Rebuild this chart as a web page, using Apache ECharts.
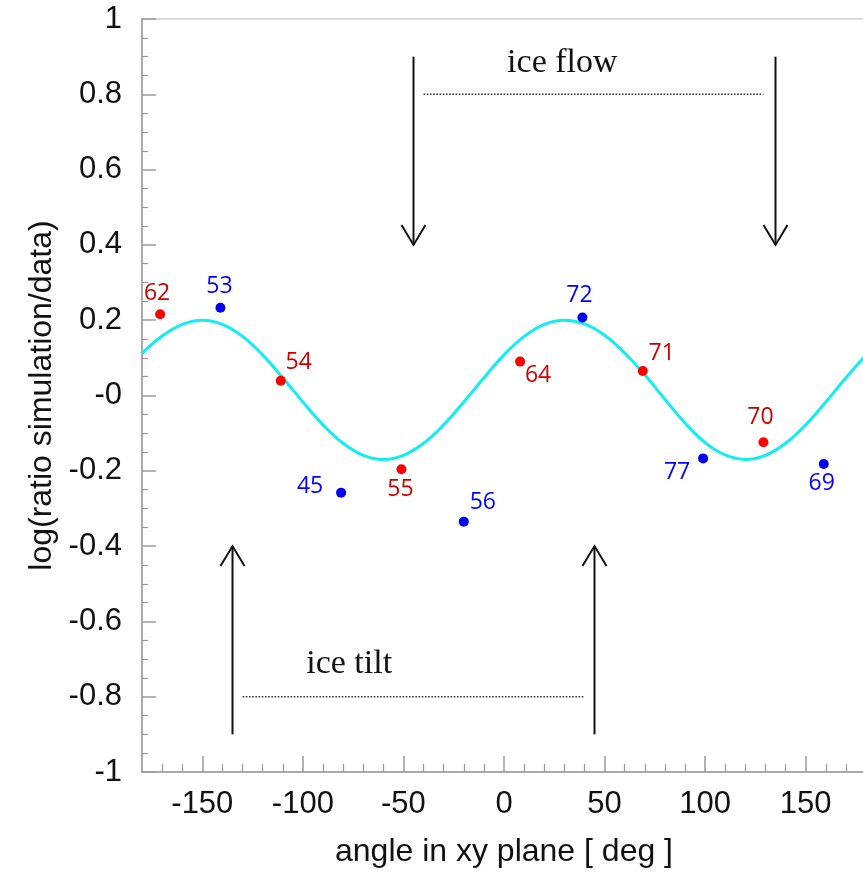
<!DOCTYPE html>
<html>
<head>
<meta charset="utf-8">
<script src="https://cdn.jsdelivr.net/npm/echarts@6/dist/echarts.min.js"></script>
<style>
  html, body { margin: 0; padding: 0; background: #fff; }
  #chart { width: 863px; height: 873px; }
</style>
</head>
<body>
<div id="chart"></div>
<script>
// ---- data ----
const redNames = ['62', '54', '55', '64', '71', '70'];
const redX = [-171, -111, -51, 8, 69, 129];
const redY = [0.216, 0.039, -0.196, 0.090, 0.065, -0.124];

const blueNames = ['53', '45', '56', '72', '77', '69'];
const blueX = [-141, -81, -20, 39, 99, 159];
const blueY = [0.233, -0.258, -0.335, 0.207, -0.167, -0.182];

// fitted curve, every 10 degrees
const curveX = [-180, -170, -160, -150, -140, -130, -120, -110, -100, -90, -80, -70, -60, -50, -40, -30, -20, -10,
                0, 10, 20, 30, 40, 50, 60, 70, 80, 90, 100, 110, 120, 130, 140, 150, 160, 170, 180];
const curveY = [0.112, 0.158, 0.189, 0.200, 0.189, 0.157, 0.108, 0.047, -0.017, -0.078, -0.127, -0.159, -0.170,
                -0.159, -0.127, -0.078, -0.017, 0.047, 0.108, 0.157, 0.189, 0.200, 0.190, 0.160, 0.113, 0.055,
                -0.010, -0.073, -0.125, -0.158, -0.170, -0.159, -0.127, -0.078, -0.017, 0.047, 0.108];

// tick labels
const xMajorTicks = [-150, -100, -50, 0, 50, 100, 150];
const xMinorTicks = [-170, -160, -140, -130, -120, -110, -90, -80, -70, -60, -40, -30, -20, -10,
                     10, 20, 30, 40, 60, 70, 80, 90, 110, 120, 130, 140, 160, 170];

// annotations (data coordinates)
const arrowX = [-45, 135, -135, 45];
const arrowFrom = [0.9, 0.9, -0.9, -0.9];
const arrowTo = [0.4, 0.4, -0.4, -0.4];
const dotLineX0 = [-40, -130];
const dotLineX1 = [129, 40];
const dotLineY = [0.8, -0.8];
const noteText = ['ice flow', 'ice tilt'];
const noteX = [29, -77];
const noteY = [0.882, -0.713];

// label offsets (px) relative to each point
const redLabelOffsets = [[-3, -21], [18, -18], [-1, 20], [18, 14], [19, -18], [-3, -25]];
const blueLabelOffsets = [[-1, -21], [-31, -6], [19, -19], [-3, -22], [-26, 14], [-2, 19]];

// ---- build ----
const SANS = 'Liberation Sans';
const LABEL_FONT = 'Open Sans';

function pts(xs, ys, names, offsets) {
  return xs.map((x, i) => ({
    value: [x, ys[i]],
    name: names[i],
    label: { offset: offsets[i] }
  }));
}

const chart = echarts.init(document.getElementById('chart'), null, { renderer: 'canvas' });

const axisGray = '#9a9a9a';

const option = {
  animation: false,
  backgroundColor: '#fff',
  grid: {
    left: 142, right: -3, top: 19, bottom: 101,
    show: true, borderColor: '#cfcfcf', borderWidth: 1.5,
    containLabel: false, outerBoundsMode: 'none'
  },
  xAxis: [
    {
      type: 'value', min: -180, max: 180, position: 'bottom',
      name: 'angle in xy plane [ deg ]', nameLocation: 'middle', nameGap: 64,
      nameTextStyle: { fontFamily: SANS, fontSize: 32, color: '#111' },
      axisLine: { show: true, onZero: false, lineStyle: { color: axisGray, width: 1.5 } },
      axisTick: { show: true, inside: true, length: 16, customValues: xMajorTicks,
                  lineStyle: { color: axisGray, width: 1.5 } },
      axisLabel: { show: true, customValues: xMajorTicks, margin: 17,
                   fontFamily: SANS, fontSize: 31, color: '#111' },
      splitLine: { show: false }
    },
    {
      type: 'value', min: -180, max: 180, position: 'bottom',
      axisLine: { show: false, onZero: false },
      axisTick: { show: true, inside: true, length: 8, customValues: xMinorTicks,
                  lineStyle: { color: axisGray, width: 1.2 } },
      axisLabel: { show: false },
      splitLine: { show: false }
    }
  ],
  yAxis: {
    type: 'value', min: -1, max: 1, interval: 0.2,
    name: 'log(ratio simulation/data)', nameLocation: 'middle', nameGap: 84,
    nameTextStyle: { fontFamily: SANS, fontSize: 32, color: '#111' },
    axisLine: { show: true, onZero: false, lineStyle: { color: axisGray, width: 1.5 } },
    axisTick: { show: true, inside: true, length: 14, lineStyle: { color: axisGray, width: 1.5 } },
    minorTick: { show: true, splitNumber: 4, length: 6, lineStyle: { color: axisGray, width: 1.2 } },
    axisLabel: {
      margin: 20, fontFamily: SANS, fontSize: 31, color: '#111',
      formatter: function (v) {
        const r = Math.round(v * 10) / 10;
        if (r === 0) return '-0';
        return String(r);
      }
    },
    splitLine: { show: false }
  },
  series: [
    {
      type: 'line',
      xAxisIndex: 0,
      data: curveX.map((x, i) => [x, curveY[i]]),
      smooth: 0.4,
      showSymbol: false,
      lineStyle: { color: '#12eef0', width: 3 },
      z: 2,
      silent: true
    },
    {
      type: 'scatter',
      xAxisIndex: 0,
      data: pts(redX, redY, redNames, redLabelOffsets),
      symbolSize: 10,
      itemStyle: { color: '#ff0000', opacity: 1 },
      label: {
        show: true, position: 'inside', formatter: '{b}',
        fontFamily: LABEL_FONT, fontSize: 23, color: '#cc0000', opacity: 1,
        align: 'center', verticalAlign: 'middle'
      },
      z: 4
    },
    {
      type: 'scatter',
      xAxisIndex: 0,
      data: pts(blueX, blueY, blueNames, blueLabelOffsets),
      symbolSize: 10,
      itemStyle: { color: '#0000ee', opacity: 1 },
      label: {
        show: true, position: 'inside', formatter: '{b}',
        fontFamily: LABEL_FONT, fontSize: 23, color: '#0000ff', opacity: 1,
        align: 'center', verticalAlign: 'middle'
      },
      z: 4
    },
    {
      // arrows
      type: 'custom',
      xAxisIndex: 0,
      silent: true,
      data: arrowX.map((x, i) => [x, arrowFrom[i], arrowTo[i]]),
      encode: { x: 0, y: [1, 2] },
      renderItem: function (params, api) {
        const x = api.value(0);
        const p0 = api.coord([x, api.value(1)]);
        const p1 = api.coord([x, api.value(2)]);
        const dir = p1[1] > p0[1] ? 1 : -1;
        return {
          type: 'group',
          children: [
            { type: 'line', shape: { x1: p0[0], y1: p0[1], x2: p1[0], y2: p1[1] },
              style: { stroke: '#111', lineWidth: 2 } },
            { type: 'polyline',
              shape: { points: [[p1[0] - 12, p1[1] - dir * 20], [p1[0], p1[1]], [p1[0] + 12, p1[1] - dir * 20]] },
              style: { stroke: '#111', lineWidth: 2, fill: null } }
          ]
        };
      },
      z: 3
    },
    {
      // dotted lines
      type: 'custom',
      xAxisIndex: 0,
      silent: true,
      data: dotLineX0.map((x, i) => [x, dotLineX1[i], dotLineY[i]]),
      encode: { x: [0, 1], y: 2 },
      renderItem: function (params, api) {
        const a = api.coord([api.value(0), api.value(2)]);
        const b = api.coord([api.value(1), api.value(2)]);
        return {
          type: 'line',
          shape: { x1: a[0], y1: a[1], x2: b[0], y2: b[1] },
          style: { stroke: '#333', lineWidth: 1.6, lineDash: [1.6, 1.6] }
        };
      },
      z: 3
    },
    {
      // annotation texts
      type: 'custom',
      xAxisIndex: 0,
      silent: true,
      data: noteX.map((x, i) => [x, noteY[i], i]),
      encode: { x: 0, y: 1 },
      renderItem: function (params, api) {
        const p = api.coord([api.value(0), api.value(1)]);
        return {
          type: 'text',
          x: p[0], y: p[1],
          style: {
            text: noteText[api.value(2)],
            fontFamily: 'Liberation Serif', fontSize: 34, fill: '#111',
            align: 'center', verticalAlign: 'middle'
          }
        };
      },
      z: 3
    }
  ]
};

chart.setOption(option);
</script>
</body>
</html>
